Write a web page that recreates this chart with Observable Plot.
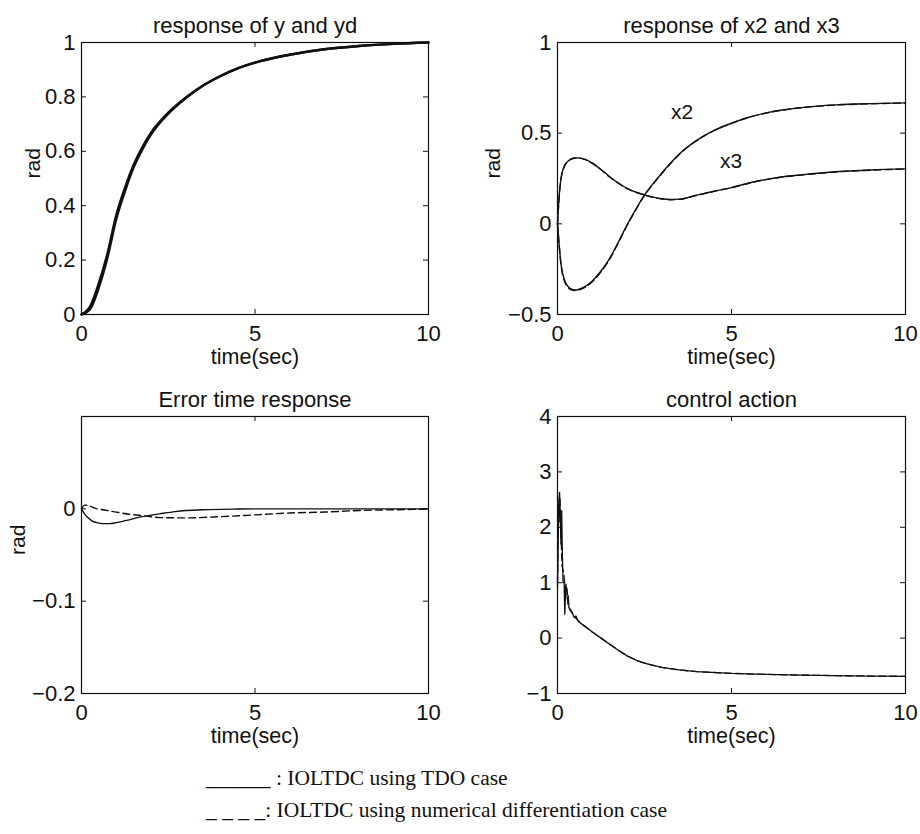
<!DOCTYPE html>
<html><head><meta charset="utf-8">
<script src="https://cdn.jsdelivr.net/npm/d3@7"></script>
<script src="https://cdn.jsdelivr.net/npm/@observablehq/plot@0.6"></script>
<style>
body{margin:0;background:#fff}
#root{position:relative;width:920px;height:834px;background:#fff;overflow:hidden}
.panel{position:absolute}
.legend{position:absolute;left:206px;font-family:"Liberation Serif","Times New Roman",serif;font-size:21.5px;color:#111;white-space:pre;line-height:1}
</style></head><body><div id="root"></div><script>
// ---------- tick labels ----------
const xTicks = [0, 5, 10];
const xLabel = "time(sec)";
const yTicksResp = [0, 0.2, 0.4, 0.6, 0.8, 1];
const yTicksX = [-0.5, 0, 0.5, 1];
const yTicksErr = [-0.2, -0.1, 0];
const yTickMarksErr = [-0.2, -0.1, 0, 0.1];
const yTicksCtrl = [-1, 0, 1, 2, 3, 4];
const titles = ["response of y and yd", "response of x2 and x3", "Error time response", "control action"];
const legendLines = ["______ : IOLTDC using TDO case", "_ _ _ _: IOLTDC using numerical differentiation case"];

// ---------- response of y and yd ----------
const tResp = [0, 0.25, 0.5, 0.75, 1, 1.25, 1.5, 1.75, 2, 2.5, 3, 3.5, 4, 4.5, 5, 5.5, 6, 7, 8, 9, 10];
const ydResp = [0, 0.03, 0.115, 0.225, 0.365, 0.465, 0.55, 0.615, 0.668, 0.742, 0.797, 0.842, 0.877, 0.905, 0.926, 0.942, 0.955, 0.975, 0.987, 0.995, 1.0];
const yResp = [0, 0.02, 0.10, 0.21, 0.35, 0.452, 0.54, 0.606, 0.661, 0.738, 0.795, 0.841, 0.876, 0.905, 0.926, 0.942, 0.955, 0.975, 0.987, 0.995, 1.0];

// ---------- response of x2 and x3 ----------
const tX = [0, 0.05, 0.1, 0.2, 0.3, 0.4, 0.5, 0.6, 0.8, 1.0, 1.25, 1.5, 1.75, 2.0, 2.25, 2.5, 2.75, 3.0, 3.25, 3.5, 4.0, 4.5, 5.0, 5.5, 6.0, 6.5, 7.0, 8.0, 9.0, 10];
const x2TDO = [0, -0.12, -0.22, -0.31, -0.345, -0.36, -0.365, -0.362, -0.345, -0.315, -0.26, -0.19, -0.1, -0.005, 0.08, 0.16, 0.222, 0.28, 0.335, 0.385, 0.46, 0.515, 0.555, 0.588, 0.612, 0.629, 0.641, 0.656, 0.663, 0.667];
const x2Num = [0, -0.125, -0.226, -0.315, -0.35, -0.364, -0.368, -0.365, -0.349, -0.32, -0.265, -0.195, -0.104, -0.009, 0.077, 0.157, 0.22, 0.278, 0.333, 0.383, 0.459, 0.514, 0.554, 0.587, 0.611, 0.628, 0.64, 0.655, 0.662, 0.666];
const x3TDO = [0, 0.16, 0.25, 0.32, 0.345, 0.358, 0.363, 0.364, 0.355, 0.335, 0.30, 0.26, 0.225, 0.195, 0.175, 0.16, 0.147, 0.138, 0.134, 0.136, 0.158, 0.18, 0.20, 0.225, 0.245, 0.26, 0.27, 0.287, 0.297, 0.303];
const x3Num = [0, 0.15, 0.245, 0.318, 0.344, 0.357, 0.362, 0.363, 0.354, 0.333, 0.298, 0.258, 0.223, 0.194, 0.174, 0.159, 0.146, 0.137, 0.133, 0.135, 0.157, 0.179, 0.199, 0.224, 0.244, 0.259, 0.269, 0.286, 0.296, 0.302];
const xLabels = ["x2", "x3"];
const xLabelT = [3.58, 4.99];
const xLabelV = [0.616, 0.346];

// ---------- error time response ----------
const tErrTDO = [0, 0.1, 0.2, 0.3, 0.45, 0.6, 0.8, 1.0, 1.3, 1.75, 2.25, 2.7, 3.5, 4.5, 5, 6, 7, 8, 9, 10];
const errTDO = [0, -0.006, -0.010, -0.013, -0.015, -0.016, -0.016, -0.015, -0.0125, -0.0085, -0.0055, -0.003, -0.001, -0.0002, 0, 0, 0, 0, 0, 0];
const tErrNum = [0, 0.1, 0.2, 0.4, 0.7, 1.0, 1.4, 1.8, 2.3, 3.0, 4.0, 5.0, 6.0, 7.0, 8.0, 9.0, 10];
const errNum = [0, 0.004, 0.0035, 0.0005, -0.0015, -0.0035, -0.006, -0.0075, -0.0095, -0.0098, -0.0085, -0.0065, -0.0045, -0.0035, -0.0018, -0.001, -0.0003];

// ---------- control action ----------
const tCtrlTDO = [0, 0.02, 0.04, 0.06, 0.08, 0.10, 0.12, 0.14, 0.16, 0.19, 0.21, 0.24, 0.28, 0.31, 0.33, 0.40, 0.45, 0.48, 0.53, 0.6, 0.75, 0.9, 1.0, 1.25, 1.5, 1.75, 2.0, 2.3, 2.6, 3.0, 3.5, 4.0, 5.0, 6.0, 7.0, 8.0, 9.0, 10];
const ctrlTDO = [0.9, 1.8, 2.5, 2.63, 2.2, 1.7, 2.3, 1.5, 1.0, 1.0, 0.43, 0.98, 0.8, 0.75, 0.55, 0.49, 0.42, 0.37, 0.40, 0.30, 0.23, 0.16, 0.11, 0.0, -0.11, -0.22, -0.32, -0.41, -0.47, -0.53, -0.575, -0.605, -0.637, -0.655, -0.668, -0.678, -0.685, -0.69];
const tCtrlNum = [0, 0.03, 0.05, 0.07, 0.10, 0.13, 0.17, 0.20, 0.23, 0.27, 0.30, 0.35, 0.40, 0.48, 0.6, 0.75, 0.9, 1.0, 1.25, 1.5, 1.75, 2.0, 2.3, 2.6, 3.0, 3.5, 4.0, 5.0, 6.0, 7.0, 8.0, 9.0, 10];
const ctrlNum = [1.0, 2.4, 2.1, 2.55, 1.9, 1.3, 1.2, 1.05, 0.7, 0.9, 0.6, 0.52, 0.47, 0.39, 0.31, 0.23, 0.16, 0.11, 0.0, -0.11, -0.22, -0.32, -0.41, -0.47, -0.53, -0.575, -0.605, -0.637, -0.655, -0.668, -0.678, -0.685, -0.69];

// ---------- drawing ----------
const INK = "#111";
const FONT = '"Liberation Sans", Arial, Helvetica, sans-serif';
const fmt = d3.format("~g");
const toRows = (ts, vs) => ts.map((t, i) => ({t, v: vs[i]}));

function panel(o) {
  const W = 460, H = 372;
  const fw = W - o.ml - o.mr, fh = H - o.mt - o.mb;
  const marks = [
    Plot.frame({stroke: INK, strokeWidth: 1.2}),
    Plot.tickX(xTicks, {x: d => d, insetTop: fh - 5, stroke: INK}),
    Plot.tickX(xTicks, {x: d => d, insetBottom: fh - 5, stroke: INK}),
    Plot.tickY(o.yTickMarks, {y: d => d, insetRight: fw - 5, stroke: INK}),
    Plot.tickY(o.yTickMarks, {y: d => d, insetLeft: fw - 5, stroke: INK}),
    Plot.axisX({ticks: xTicks, tickSize: 0, tickPadding: 11, tickFormat: fmt, label: null, fontSize: 22, fill: INK}),
    Plot.axisY({ticks: o.yTicks, tickSize: 0, tickPadding: 6, tickFormat: fmt, label: null, fontSize: 22, fill: INK}),
    ...o.series.map(s => Plot.line(toRows(s.t, s.v), {
      x: "t", y: "v", stroke: INK, strokeWidth: s.w || 1.4,
      strokeDasharray: s.dash ? "7,4" : null, curve: s.curve || "monotone-x"
    })),
    Plot.text([o.title], {text: d => d, frameAnchor: "top", dy: -25, fontSize: 22, fill: INK}),
    Plot.text([xLabel], {text: d => d, frameAnchor: "bottom", dy: 49, fontSize: 21.5, fill: INK})
  ];
  if (o.ylabel) marks.push(Plot.text([o.ylabel], {text: d => d, frameAnchor: "left", dx: o.ylx, rotate: -90, fontSize: 21, fill: INK}));
  if (o.extra) marks.push(...o.extra);
  const svg = Plot.plot({
    width: W, height: H,
    marginLeft: o.ml, marginRight: o.mr, marginTop: o.mt, marginBottom: o.mb,
    x: {domain: [0, 10]},
    y: {domain: o.yDomain},
    style: {fontFamily: FONT, fontSize: "20px", color: INK, background: "transparent", overflow: "visible"},
    marks
  });
  const div = document.createElement("div");
  div.className = "panel";
  div.style.left = o.left + "px";
  div.style.top = o.top + "px";
  div.appendChild(svg);
  document.getElementById("root").appendChild(div);
}

panel({
  left: 0, top: 0, ml: 81, mr: 32, mt: 42, mb: 58,
  yDomain: [0, 1], yTicks: yTicksResp, yTickMarks: yTicksResp,
  title: titles[0], ylabel: "rad", ylx: -48,
  series: [
    {t: tResp, v: ydResp, w: 2.4},
    {t: tResp, v: yResp, w: 2.4}
  ]
});

panel({
  left: 460, top: 0, ml: 97, mr: 15, mt: 42, mb: 58,
  yDomain: [-0.5, 1], yTicks: yTicksX, yTickMarks: yTicksX,
  title: titles[1], ylabel: "rad", ylx: -64,
  series: [
    {t: tX, v: x2TDO}, {t: tX, v: x2Num, dash: true},
    {t: tX, v: x3TDO}, {t: tX, v: x3Num, dash: true}
  ],
  extra: [Plot.text(xLabels, {x: (d, i) => xLabelT[i], y: (d, i) => xLabelV[i], text: d => d, fontSize: 21, fill: INK})]
});

panel({
  left: 0, top: 372, ml: 81, mr: 32, mt: 44, mb: 51,
  yDomain: [-0.2, 0.1], yTicks: yTicksErr, yTickMarks: yTickMarksErr,
  title: titles[2], ylabel: "rad", ylx: -63,
  series: [
    {t: tErrTDO, v: errTDO},
    {t: tErrNum, v: errNum, dash: true}
  ]
});

panel({
  left: 460, top: 372, ml: 97, mr: 15, mt: 44, mb: 51,
  yDomain: [-1, 4], yTicks: yTicksCtrl, yTickMarks: yTicksCtrl,
  title: titles[3],
  series: [
    {t: tCtrlTDO, v: ctrlTDO, curve: "linear", w: 1.3},
    {t: tCtrlNum, v: ctrlNum, curve: "linear", w: 1.3, dash: true}
  ]
});

legendLines.forEach((txt, i) => {
  const d = document.createElement("div");
  d.className = "legend";
  d.style.top = (768 + i * 32) + "px";
  d.textContent = txt;
  document.getElementById("root").appendChild(d);
});
</script></body></html>
